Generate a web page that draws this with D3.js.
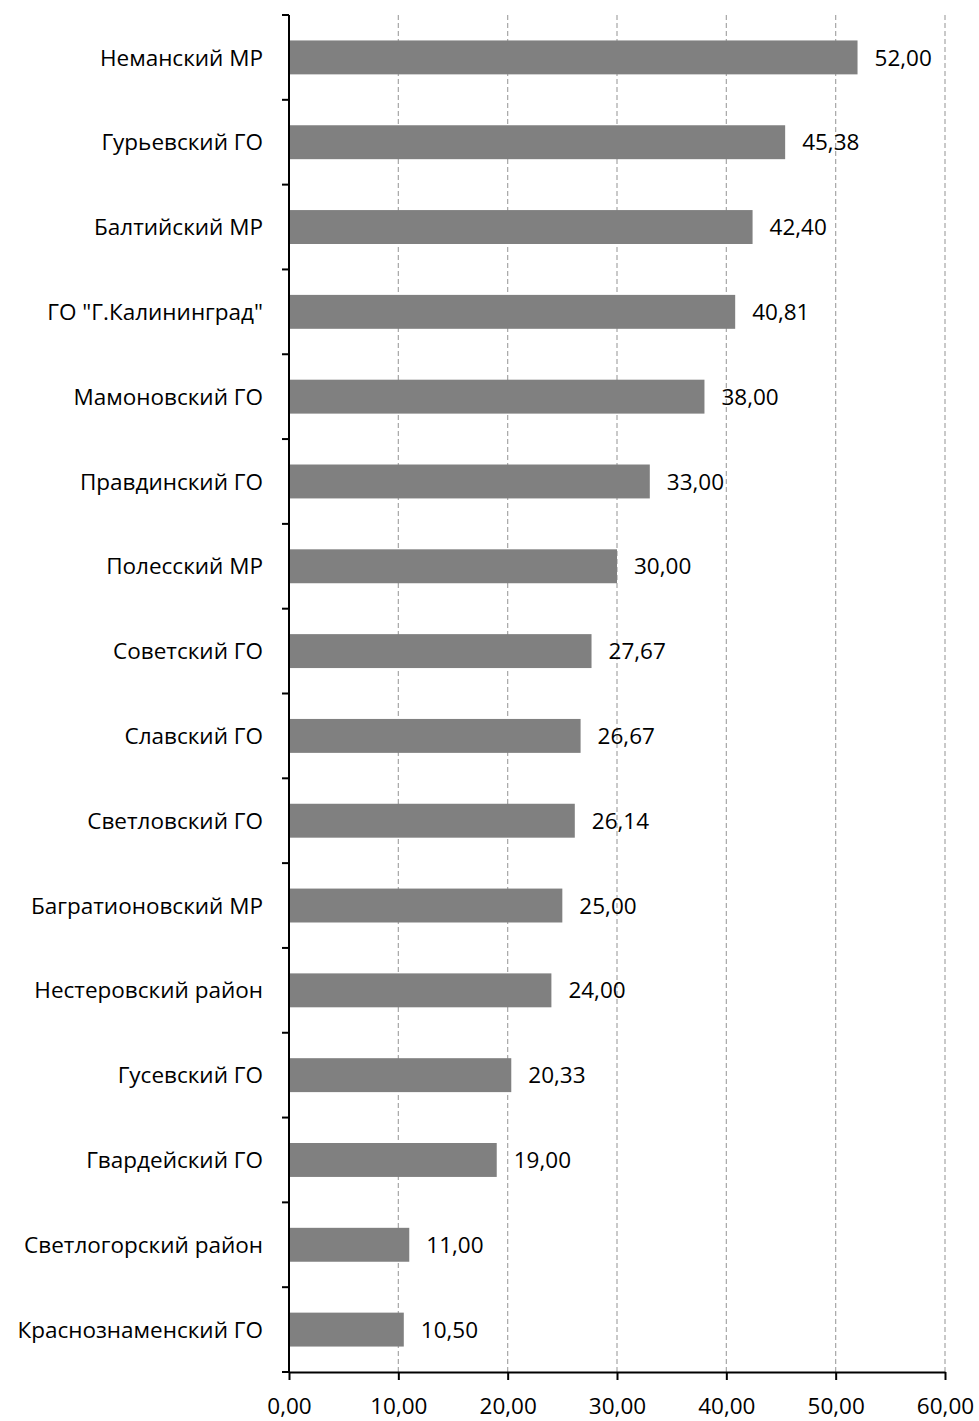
<!DOCTYPE html>
<html><head><meta charset="utf-8">
<script src="https://cdn.jsdelivr.net/npm/d3@7"></script>
<style>body{margin:0;background:#fff}svg{display:block}text{font-family:"Open Sans",sans-serif;fill:#000}</style>
</head><body><div id="chart"></div>
<script>
const categories = ["Неманский МР","Гурьевский ГО","Балтийский МР","ГО \"Г.Калининград\"","Мамоновский ГО","Правдинский ГО","Полесский МР","Советский ГО","Славский ГО","Светловский ГО","Багратионовский МР","Нестеровский район","Гусевский ГО","Гвардейский ГО","Светлогорский район","Краснознаменский ГО"];
const values = [52.00,45.38,42.40,40.81,38.00,33.00,30.00,27.67,26.67,26.14,25.00,24.00,20.33,19.00,11.00,10.50];
const xTicks = [0,10,20,30,40,50,60];

const W=979,H=1421,FS=22.5;
const m={left:289,right:34,top:15,bottom:49};
const svg=d3.select("#chart").append("svg").attr("width",W).attr("height",H);
const x=d3.scaleLinear().domain([0,60]).range([m.left,W-m.right]);
const y=d3.scaleBand().domain(categories).range([m.top,H-m.bottom]).paddingInner(0.6).paddingOuter(0.3);
const fmt=v=>v.toFixed(2).replace(".",",");

svg.append("g").selectAll("line").data(xTicks.slice(1)).join("line")
 .attr("x1",d=>x(d)).attr("x2",d=>x(d)).attr("y1",m.top).attr("y2",H-m.bottom)
 .attr("stroke","#a6a6a6").attr("stroke-width",1.2).attr("stroke-dasharray","5,3");

svg.append("g").selectAll("rect").data(values).join("rect")
 .attr("x",x(0)).attr("y",(d,i)=>y(categories[i])).attr("width",d=>x(d)-x(0)).attr("height",y.bandwidth())
 .attr("fill","#808080");

svg.append("g").selectAll("text").data(values).join("text")
 .attr("x",d=>x(d)+17).attr("y",(d,i)=>y(categories[i])+y.bandwidth()/2).attr("dy","0.36em")
 .attr("font-size",FS).text(fmt);

// y axis
const step=y.step();
const yb=d3.range(categories.length+1).map(i=>m.top+i*step);
const ya=svg.append("g");
ya.append("line").attr("x1",x(0)).attr("x2",x(0)).attr("y1",m.top).attr("y2",H-m.bottom).attr("stroke","#000").attr("stroke-width",2);
ya.selectAll("line.t").data(yb).join("line").attr("class","t")
 .attr("x1",x(0)-7).attr("x2",x(0)).attr("y1",d=>d).attr("y2",d=>d).attr("stroke","#000").attr("stroke-width",2);
ya.selectAll("text").data(categories).join("text")
 .attr("x",x(0)-26).attr("y",d=>y(d)+y.bandwidth()/2).attr("dy","0.36em").attr("text-anchor","end")
 .attr("font-size",FS).text(d=>d);

// x axis
const xa=svg.append("g").attr("transform",`translate(0,${H-m.bottom})`)
 .call(d3.axisBottom(x).tickValues(xTicks).tickFormat(fmt).tickSize(8).tickSizeOuter(0));
xa.select(".domain").attr("stroke","#000").attr("stroke-width",2);
xa.selectAll(".tick line").attr("stroke","#000").attr("stroke-width",2);
xa.selectAll(".tick text").attr("font-size",FS).attr("font-family","Open Sans, sans-serif").attr("y",0).attr("dy","1.85em");
</script></body></html>
